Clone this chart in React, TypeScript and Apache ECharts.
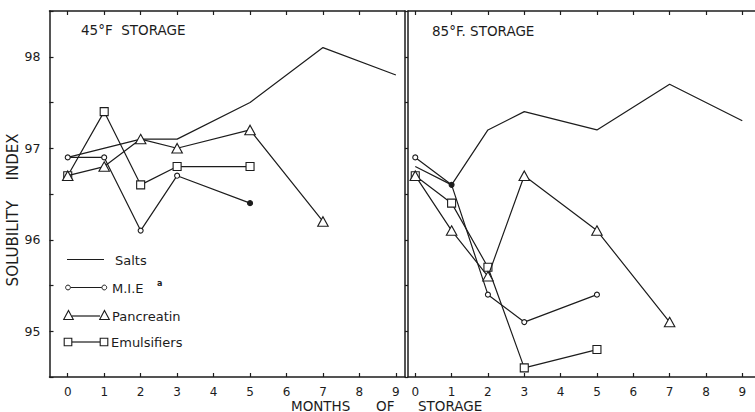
import React, { useEffect, useRef } from "react";
import * as echarts from "echarts";

// Months of storage shown on both panels
const months = [0, 1, 2, 3, 4, 5, 6, 7, 8, 9];
const yLabelValues = [95, 96, 97, 98];

// 45°F storage (null = not measured that month)
const salts45 = [96.9, null, 97.1, 97.1, null, 97.5, null, 98.1, null, 97.8];
const mie45 = [96.9, 96.9, 96.1, 96.7, null, 96.4, null, null, null, null];
const pancreatin45 = [96.7, 96.8, 97.1, 97.0, null, 97.2, null, 96.2, null, null];
const emulsifiers45 = [96.7, 97.4, 96.6, 96.8, null, 96.8, null, null, null, null];
const mieSolid45 = [5];

// 85°F storage
const salts85 = [96.8, 96.6, 97.2, 97.4, null, 97.2, null, 97.7, null, 97.3];
const mie85 = [96.9, 96.6, 95.4, 95.1, null, 95.4, null, null, null, null];
const pancreatin85 = [96.7, 96.1, 95.6, 96.7, null, 96.1, null, 95.1, null, null];
const emulsifiers85 = [96.7, 96.4, 95.7, 94.6, null, 94.8, null, null, null, null];
const mieSolid85 = [1];

const INK = "#1c1c1c";
const FONT = '"DejaVu Sans", sans-serif';

function points(vals: (number | null)[], solid: number[] = []) {
  const out: any[] = [];
  months.forEach((m, i) => {
    const v = vals[i];
    if (v == null) return;
    if (solid.includes(m)) out.push({ value: [m, v], itemStyle: { color: INK } });
    else out.push([m, v]);
  });
  return out;
}

function series(
  name: string,
  vals: (number | null)[],
  panel: number,
  symbol: string,
  size: number | number[],
  solid: number[] = [],
  z = 2
) {
  return {
    name,
    type: "line",
    xAxisIndex: panel * 2,
    yAxisIndex: panel === 0 ? 0 : 2,
    data: points(vals, solid),
    symbol,
    symbolSize: size,
    showAllSymbol: true,
    silent: true,
    z,
    lineStyle: { color: INK, width: 1.2 },
    itemStyle: { color: "#ffffff", borderColor: INK, borderWidth: 1.1 },
    emphasis: { disabled: true },
  };
}

function xAxes(grid: number, min: number, max: number) {
  const base = {
    gridIndex: grid,
    type: "value",
    min,
    max,
    splitLine: { show: false },
    axisLine: { show: true, onZero: false, lineStyle: { color: INK, width: 1.5 } },
    axisTick: { show: true, inside: true, length: 4, customValues: months, lineStyle: { color: INK, width: 1.2 } },
  };
  return [
    {
      ...base,
      position: "bottom",
      axisLabel: { show: true, customValues: months, margin: 9, color: INK, fontFamily: FONT, fontSize: 12, lineHeight: 12 },
    },
    { ...base, position: "top", axisLabel: { show: false } },
  ];
}

const yBase = {
  type: "value",
  min: 94.5,
  max: 98.5,
  interval: 0.5,
  splitLine: { show: false },
  axisLine: { show: true, onZero: false, lineStyle: { color: INK, width: 1.5 } },
};

function textStyle(text: string, size: number, align = "left", weight = "normal") {
  return {
    text,
    fill: INK,
    font: `${weight} ${size}px ${FONT}`,
    lineHeight: size,
    align,
    verticalAlign: "middle",
    textAlign: align,
    textVerticalAlign: "middle",
  };
}

function legendGraphics() {
  const g: any[] = [];
  const stroke = { stroke: INK, lineWidth: 1.2 };
  const label = (text: string, x: number, y: number) => ({ type: "text", x, y, style: textStyle(text, 13) });
  // Salts
  g.push({ type: "line", shape: { x1: 67, y1: 259.5, x2: 104, y2: 259.5 }, style: stroke });
  g.push(label("Salts", 115, 260));
  // M.I.E
  g.push({ type: "line", shape: { x1: 70.5, y1: 287.5, x2: 101.8, y2: 287.5 }, style: { stroke: INK, lineWidth: 1 } });
  [68, 104.3].forEach((cx) => g.push({ type: "circle", shape: { cx, cy: 287.5, r: 2.4 }, style: { fill: "#fff", stroke: INK, lineWidth: 1 } }));
  g.push(label("M.I.E", 112, 288));
  g.push({ type: "text", x: 157, y: 283, style: textStyle("a", 8, "left", "bold") });
  // Pancreatin
  g.push({ type: "line", shape: { x1: 72, y1: 316, x2: 100, y2: 316 }, style: stroke });
  [68.5, 104.5].forEach((cx) =>
    g.push({ type: "polygon", shape: { points: [[cx, 310.5], [cx + 4.8, 319.5], [cx - 4.8, 319.5]] }, style: { fill: "#fff", stroke: INK, lineWidth: 1.1 } })
  );
  g.push(label("Pancreatin", 112, 316));
  // Emulsifiers
  g.push({ type: "line", shape: { x1: 72, y1: 342, x2: 100, y2: 342 }, style: stroke });
  [68, 104].forEach((cx) => g.push({ type: "rect", shape: { x: cx - 3.8, y: 338.2, width: 7.6, height: 7.6 }, style: { fill: "#fff", stroke: INK, lineWidth: 1.1 } }));
  g.push(label("Emulsifiers", 111, 342.5));
  return g;
}

function textGraphics() {
  const t = (text: string, x: number, y: number, size: number) => ({ type: "text", x, y, style: textStyle(text, size) });
  const v = (text: string, x: number, y: number, size: number) => ({
    type: "text",
    x,
    y,
    rotation: Math.PI / 2,
    style: textStyle(text, size, "center"),
  });
  return [
    t("45°F  STORAGE", 81, 30, 13.5),
    t("85°F. STORAGE", 432, 31, 13.5),
    t("MONTHS", 291, 405.5, 13.5),
    t("OF", 376, 405.5, 13.5),
    t("STORAGE", 418, 405.5, 13.5),
    v("SOLUBILITY", 12.5, 243.5, 15),
    v("INDEX", 12.5, 157, 15),
  ];
}

export default function App() {
  const ref = useRef<HTMLDivElement>(null);

  useEffect(() => {
    if (!ref.current) return;
    const chart = echarts.init(ref.current, null, { renderer: "svg" });
    chart.setOption({
      animation: false,
      backgroundColor: "#ffffff",
      grid: [
        { left: 49.5, top: 11, width: 355.5, height: 366 },
        { left: 408, top: 11, width: 347, height: 366 },
      ],
      xAxis: [...xAxes(0, -0.5, 9.25), ...xAxes(1, -0.2, 9.35)],
      yAxis: [
        {
          ...yBase,
          gridIndex: 0,
          position: "left",
          axisTick: { show: true, inside: true, length: 4, lineStyle: { color: INK, width: 1.2 } },
          axisLabel: { show: true, customValues: yLabelValues, margin: 9, color: INK, fontFamily: FONT, fontSize: 12.5 },
        },
        { ...yBase, gridIndex: 0, position: "right", axisTick: { show: false }, axisLabel: { show: false } },
        {
          ...yBase,
          gridIndex: 1,
          position: "left",
          axisTick: { show: true, inside: false, length: 3, lineStyle: { color: INK, width: 1.2 } },
          axisLabel: { show: false },
        },
      ],
      series: [
        series("Salts", salts45, 0, "none", 0, [], 2),
        series("M.I.E", mie45, 0, "circle", 5, mieSolid45, 3),
        series("Emulsifiers", emulsifiers45, 0, "rect", 8, [], 4),
        series("Pancreatin", pancreatin45, 0, "triangle", [10.5, 9.5], [], 5),
        series("Salts", salts85, 1, "none", 0, [], 2),
        series("M.I.E", mie85, 1, "circle", 5, mieSolid85, 3),
        series("Emulsifiers", emulsifiers85, 1, "rect", 8, [], 4),
        series("Pancreatin", pancreatin85, 1, "triangle", [10.5, 9.5], [], 5),
      ],
      graphic: [...legendGraphics(), ...textGraphics()],
    });
    return () => chart.dispose();
  }, []);

  return <div ref={ref} style={{ position: "absolute", left: 0, top: 0, width: 755, height: 412, background: "#fff" }} />;
}
